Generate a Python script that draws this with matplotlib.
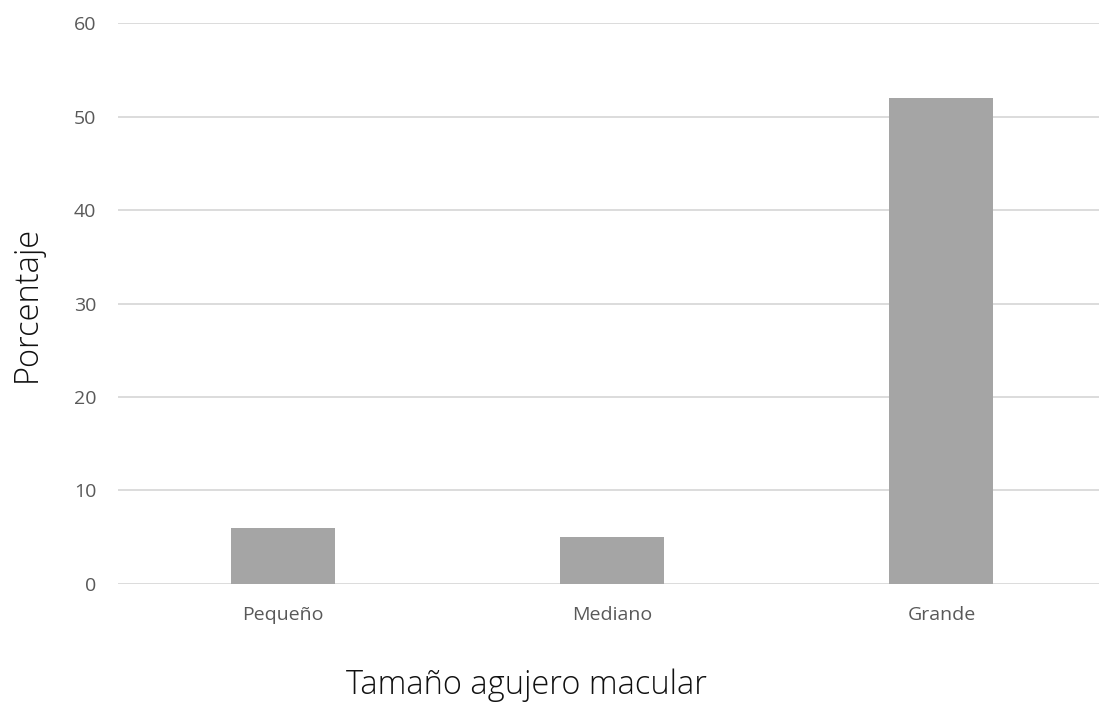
import matplotlib
matplotlib.use("Agg")
import matplotlib.pyplot as plt

categories = ["Pequeño", "Mediano", "Grande"]
values = [6, 5, 52]
yticks = [0, 10, 20, 30, 40, 50, 60]

W, H = 1099, 702
fig = plt.figure(figsize=(W / 100, H / 100), dpi=100)
left = 118.3 / W
right = 1106 / W
bottom = 1 - 583.7 / H
top = 1 - 23.3 / H
ax = fig.add_axes([left, bottom, right - left, top - bottom])

x = range(len(categories))
ax.bar(x, values, width=0.316, color="#a5a5a5", zorder=3)
ax.set_xlim(-0.5, 2.5)
ax.set_ylim(0, 60)
ax.set_yticks(yticks)
ax.set_xticks(list(x))
ax.set_xticklabels(categories)
ax.grid(axis="y", color="#d9d9d9", linewidth=1.3, zorder=0)
for s in ["top", "right", "left", "bottom"]:
    ax.spines[s].set_visible(False)
ax.tick_params(axis="both", length=0, labelsize=14, labelcolor="#595959")
ax.tick_params(axis="y", pad=16)
ax.tick_params(axis="x", pad=16)
for lbl in ax.get_xticklabels() + ax.get_yticklabels():
    lbl.set_fontfamily("Open Sans")

fig.text(526 / W, 1 - 685.5 / H, "Tamaño agujero macular", ha="center", va="center",
         fontsize=23.5, color="#111111", family="Open Sans", fontweight="light")
fig.text(27 / W, 1 - 304 / H, "Porcentaje", ha="center", va="center", rotation=90,
         fontsize=23.5, color="#111111", family="Open Sans", fontweight="light")

fig.savefig("out.png", dpi=100)
